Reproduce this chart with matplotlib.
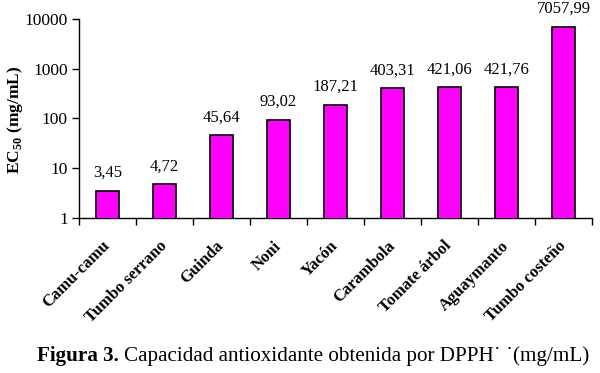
import matplotlib
matplotlib.use("Agg")
import matplotlib.pyplot as plt
import numpy as np

categories = ["Camu-camu", "Tumbo serrano", "Guinda", "Noni", "Yacón",
              "Carambola", "Tomate árbol", "Aguaymanto", "Tumbo costeño"]
values = [3.45, 4.72, 45.64, 93.02, 187.21, 403.31, 421.06, 421.76, 7057.99]
value_labels = ["3,45", "4,72", "45,64", "93,02", "187,21", "403,31", "421,06", "421,76", "7057,99"]
yticks = [1, 10, 100, 1000, 10000]

plt.rcParams['font.family'] = ['Liberation Serif', 'DejaVu Serif']
plt.rcParams['mathtext.fontset'] = 'custom'
plt.rcParams['mathtext.rm'] = 'Liberation Serif:bold'
plt.rcParams['mathtext.bf'] = 'Liberation Serif:bold'

fig = plt.figure(figsize=(6.0, 3.73), dpi=100)
ax = fig.add_axes([79 / 600, 1 - 218 / 373, 513 / 600, 199 / 373])

x = np.arange(len(categories))
ax.bar(x, values, width=0.4, bottom=0, color='#FF00FF', edgecolor='black', linewidth=1.2, zorder=3)
ax.set_yscale('log')
ax.set_ylim(1, 10000)
ax.set_xlim(-0.5, len(categories) - 0.5)
ax.set_yticks(yticks)
ax.set_yticklabels([str(t) for t in yticks], fontsize=12.5)
ax.minorticks_off()
ax.tick_params(axis='y', direction='out', length=5, width=1, pad=3)

ax.set_xticks(np.arange(len(categories) + 1) - 0.5)
ax.set_xticklabels([])
ax.tick_params(axis='x', direction='out', length=5, width=1)
for xi, c in zip(x, categories):
    ax.text(xi - 0.1, -0.1, c, transform=ax.get_xaxis_transform(), rotation=45,
            ha='right', va='top', rotation_mode='anchor', fontsize=12, fontweight='bold')

for xi, v, lab in zip(x, values, value_labels):
    ax.text(xi, v * 1.6, lab, ha='center', va='bottom', fontsize=12)

for s in ['top', 'right']:
    ax.spines[s].set_visible(False)
for s in ['left', 'bottom']:
    ax.spines[s].set_linewidth(1)

fig.text(15 / 600, 1 - 120 / 373, r'EC$_{\mathrm{50}}$ (mg/mL)', fontsize=12.5, fontweight='bold',
         rotation=90, ha='center', va='center')

t1 = fig.text(0.062, 0.045, 'Figura 3.', fontsize=15.2, fontweight='bold', ha='left', va='center')
fig.canvas.draw()
bb = t1.get_window_extent()
x2 = (bb.x1 + 5) / fig.bbox.width
fig.text(x2, 0.045, 'Capacidad antioxidante obtenida por DPPH˙ ˙(mg/mL)', fontsize=15.2,
         ha='left', va='center')

fig.savefig('out.png', dpi=100)
